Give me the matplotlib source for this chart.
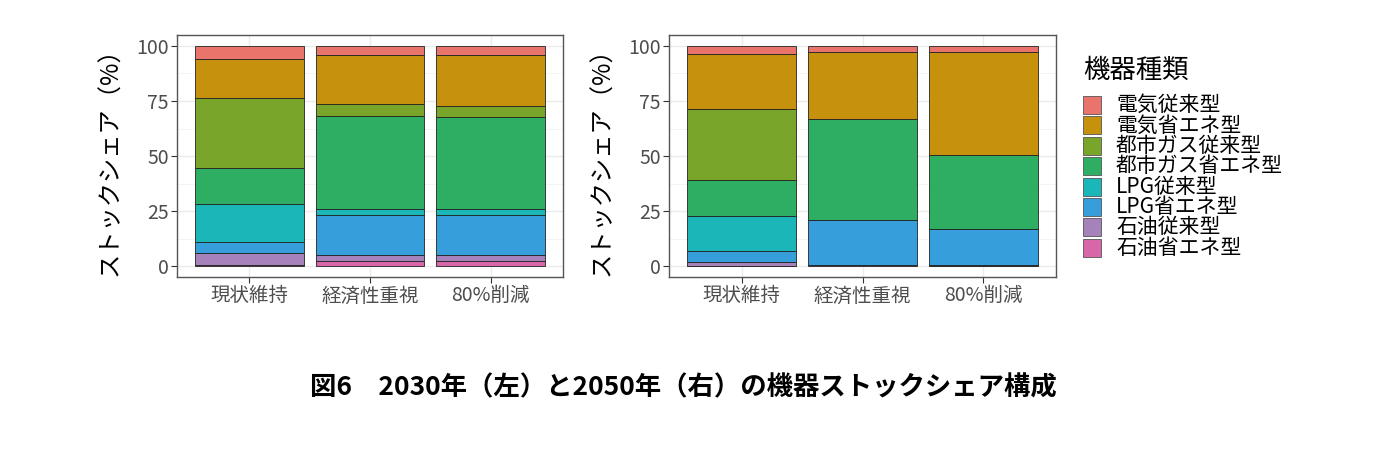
import matplotlib
matplotlib.use("Agg")
import matplotlib.pyplot as plt
from matplotlib.patches import Rectangle
import numpy as np

plt.rcParams['font.family'] = ['Noto Sans CJK JP', 'DejaVu Sans']

scenarios = ["現状維持", "経済性重視", "80%削減"]
types = ["電気従来型", "電気省エネ型", "都市ガス従来型", "都市ガス省エネ型",
         "LPG従来型", "LPG省エネ型", "石油従来型", "石油省エネ型"]
colors = ["#E9746C", "#C6920D", "#7AA52B", "#2EAE63",
          "#1BB6B8", "#369FDB", "#A682BA", "#D867A9"]

# shares (%) per type, for each scenario [現状維持, 経済性重視, 80%削減]
share_2030 = {
    "電気従来型":       [5.7, 3.9, 3.9],
    "電気省エネ型":     [18.1, 22.6, 23.2],
    "都市ガス従来型":   [31.7, 5.5, 5.3],
    "都市ガス省エネ型": [16.1, 42.2, 41.8],
    "LPG従来型":        [17.4, 2.6, 2.7],
    "LPG省エネ型":      [5.1, 18.1, 18.0],
    "石油従来型":       [5.3, 2.8, 2.8],
    "石油省エネ型":     [0.6, 2.3, 2.3],
}
share_2050 = {
    "電気従来型":       [3.8, 2.7, 2.7],
    "電気省エネ型":     [24.7, 30.6, 46.8],
    "都市ガス従来型":   [32.4, 0.0, 0.0],
    "都市ガス省エネ型": [16.3, 45.6, 33.5],
    "LPG従来型":        [15.9, 0.0, 0.0],
    "LPG省エネ型":      [4.9, 20.5, 16.7],
    "石油従来型":       [1.8, 0.3, 0.2],
    "石油省エネ型":     [0.2, 0.3, 0.1],
}

ylabel = "ストックシェア（%）"
legend_title = "機器種類"
caption = "図6　2030年（左）と2050年（右）の機器ストックシェア構成"

W, H = 1400, 461
fig = plt.figure(figsize=(W / 100, H / 100), dpi=100)

def draw_panel(ax, data):
    x = np.arange(1, len(scenarios) + 1)
    bottom = np.zeros(len(scenarios))
    # stack from bottom: last type at bottom
    for t, c in reversed(list(zip(types, colors))):
        vals = np.array(data[t], dtype=float)
        ax.bar(x, vals, width=0.9, bottom=bottom, color=c,
               edgecolor="#222222", linewidth=0.6, zorder=3)
        bottom += vals
    ax.set_xlim(0.4, 3.6)
    ax.set_ylim(-5, 105)
    ax.set_xticks(x)
    ax.set_xticklabels(scenarios, fontsize=14, color="#4D4D4D")
    ax.set_yticks([0, 25, 50, 75, 100])
    ax.set_yticks([12.5, 37.5, 62.5, 87.5], minor=True)
    ax.tick_params(axis='y', which='major', labelsize=14, labelcolor="#4D4D4D",
                   length=4, color="#333333", width=0.8, pad=2)
    ax.tick_params(axis='x', which='major', length=4, color="#333333",
                   width=0.8, pad=2)
    ax.tick_params(which='minor', length=0)
    ax.grid(True, which='major', color="#EBEBEB", linewidth=1.0, zorder=0)
    ax.grid(True, which='minor', axis='y', color="#F2F2F2", linewidth=0.6, zorder=0)
    ax.set_axisbelow(True)
    for s in ax.spines.values():
        s.set_color("#555555")
        s.set_linewidth(1.0)
    ax.set_ylabel(ylabel, fontsize=17.5, color="black", labelpad=9)

ax1 = fig.add_axes([177 / W, 1 - 277 / H, 386 / W, 242 / H])
ax2 = fig.add_axes([669 / W, 1 - 277 / H, 387 / W, 242 / H])
draw_panel(ax1, share_2030)
draw_panel(ax2, share_2050)

# legend (ggplot-style, drawn in figure pixel coordinates)
key_x, key_w, key_h = 1083, 18, 18
row0, pitch = 105, 20.4
fig.text(key_x / W, 1 - 70 / H, legend_title, ha="left", va="center",
         fontsize=19)
for i, (t, c) in enumerate(zip(types, colors)):
    cy = row0 + i * pitch
    fig.add_artist(Rectangle((key_x / W, 1 - (cy + key_h / 2) / H),
                             key_w / W, key_h / H, transform=fig.transFigure,
                             facecolor=c, edgecolor="#555555", linewidth=0.6))
    fig.text(1116 / W, 1 - cy / H, t, ha="left", va="center", fontsize=15)

fig.text(683 / W, 1 - 388 / H, caption, ha="center", va="center",
         fontsize=19, fontweight="bold")

fig.savefig("out.png", dpi=100)
